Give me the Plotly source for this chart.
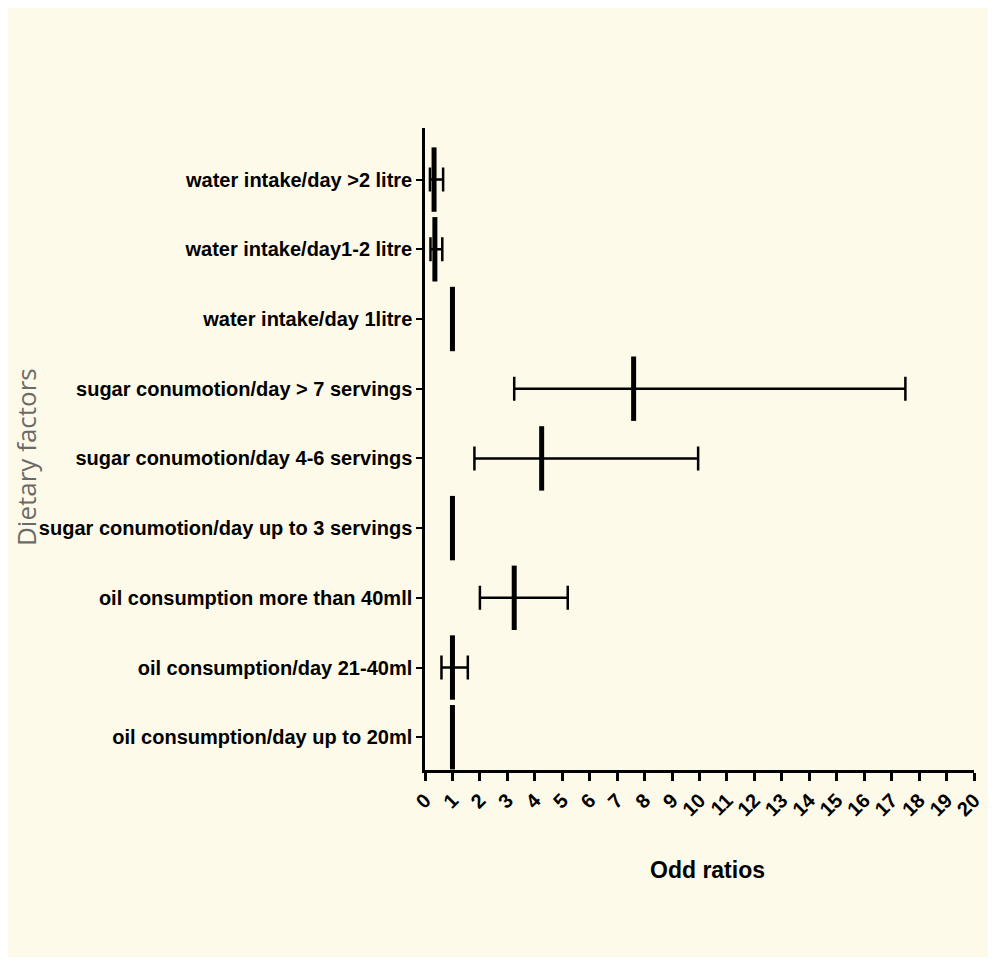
import plotly.graph_objects as go

categories = [
    "oil consumption/day up to 20ml",
    "oil consumption/day 21-40ml",
    "oil consumption more than 40mll",
    "sugar conumotion/day up to 3 servings",
    "sugar conumotion/day 4-6 servings",
    "sugar conumotion/day > 7 servings",
    "water intake/day 1litre",
    "water intake/day1-2 litre",
    "water intake/day >2 litre",
]
odds = [1.0, 1.0, 3.25, 1.0, 4.25, 7.6, 1.0, 0.36, 0.33]
ci_low = [1.0, 0.6, 2.0, 1.0, 1.8, 3.25, 1.0, 0.2, 0.18]
ci_high = [1.0, 1.56, 5.2, 1.0, 9.95, 17.5, 1.0, 0.63, 0.66]
xticks = list(range(0, 21))

ypos = list(range(len(categories)))
plus = [h - o for h, o in zip(ci_high, odds)]
minus = [o - l for o, l in zip(odds, ci_low)]
has_ci = [h > l for h, l in zip(ci_high, ci_low)]

bg = "#FEFAE9"
font_lab = "Liberation Sans, Arial, sans-serif"
W, H = 980, 949
ML, MR, MT, MB = 417, 14, 120, 187
pw, ph = W - ML - MR, H - MT - MB

fig = go.Figure()
fig.add_trace(go.Scatter(
    x=[o for o, c in zip(odds, has_ci) if c],
    y=[y for y, c in zip(ypos, has_ci) if c],
    mode="markers",
    marker=dict(symbol="line-ns", size=1, line=dict(width=0, color="black"), color="black"),
    error_x=dict(type="data", symmetric=False,
                 array=[p for p, c in zip(plus, has_ci) if c],
                 arrayminus=[m for m, c in zip(minus, has_ci) if c],
                 color="black", thickness=2.5, width=12),
    showlegend=False, hoverinfo="skip",
))
fig.add_trace(go.Scatter(
    x=odds, y=ypos, mode="markers",
    marker=dict(symbol="line-ns", size=46, line=dict(width=5, color="black"), color="black"),
    showlegend=False,
))

fig.add_annotation(
    text="Dietary factors", textangle=-90, showarrow=False,
    xref="paper", yref="paper", x=(18 - ML) / pw, y=1 - (449 - MT) / ph,
    xanchor="center", yanchor="middle",
    font=dict(family="Open Sans, sans-serif", size=26, color="#6a6a6a"),
)
fig.add_annotation(
    text="<b>Odd ratios</b>", showarrow=False,
    xref="paper", yref="paper", x=(699 - ML) / pw, y=-(862 - (MT + ph)) / ph,
    xanchor="center", yanchor="middle",
    font=dict(family=font_lab, size=23, color="black"),
)

fig.update_layout(
    width=W, height=H,
    paper_bgcolor=bg, plot_bgcolor=bg,
    margin=dict(l=ML, r=MR, t=MT, b=MB, autoexpand=False),
    xaxis=dict(
        range=[0, 20], tickvals=xticks, ticktext=["<b>%d</b>" % t for t in xticks],
        tickangle=-45, showgrid=False, zeroline=False, automargin=False,
        showline=True, linecolor="black", linewidth=2.5,
        ticks="outside", ticklen=8, tickwidth=2.5, tickcolor="black",
        ticklabeloverflow="allow",
        tickfont=dict(family=font_lab, size=20, color="black"),
    ),
    yaxis=dict(
        range=[-0.47, 8.74], tickvals=ypos, ticktext=["<b>%s</b>" % c for c in categories],
        showgrid=False, zeroline=False, automargin=False,
        showline=True, linecolor="black", linewidth=2.5,
        ticks="outside", ticklen=6, tickwidth=2, tickcolor="black",
        tickfont=dict(family=font_lab, size=20, color="black"),
    ),
)
fig.write_html("out.html")
